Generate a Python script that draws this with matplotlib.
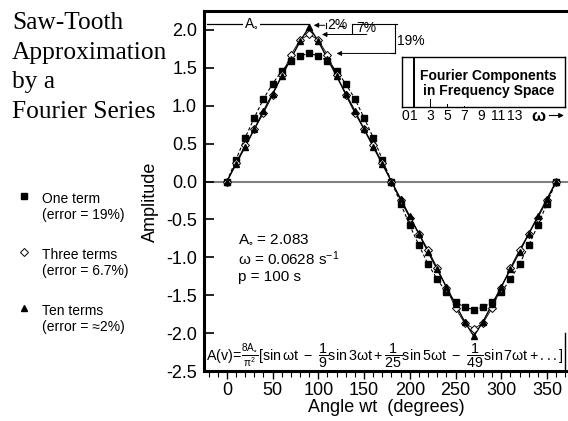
import matplotlib
matplotlib.use('Agg')
import matplotlib.pyplot as plt
from matplotlib.ticker import MultipleLocator
from matplotlib.legend_handler import HandlerLine2D
import numpy as np

plt.rcParams['font.family'] = ['Liberation Sans', 'DejaVu Sans']
plt.rcParams['axes.unicode_minus'] = False
plt.rcParams['mathtext.fontset'] = 'custom'
plt.rcParams['mathtext.rm'] = 'Liberation Sans'
plt.rcParams['mathtext.it'] = 'Liberation Sans'
plt.rcParams['mathtext.default'] = 'regular'

# ---------------- data ----------------
angle = [0, 10, 20, 30, 40, 50, 60, 70, 80, 90, 100, 110, 120, 130, 140, 150, 160, 170,
         180, 190, 200, 210, 220, 230, 240, 250, 260, 270, 280, 290, 300, 310, 320, 330,
         340, 350, 360]
one_term = [0, 0.29, 0.58, 0.84, 1.09, 1.29, 1.46, 1.59, 1.66, 1.69, 1.66, 1.59, 1.46,
            1.29, 1.09, 0.84, 0.58, 0.29, 0, -0.29, -0.58, -0.84, -1.09, -1.29, -1.46,
            -1.59, -1.66, -1.69, -1.66, -1.59, -1.46, -1.29, -1.09, -0.84, -0.58, -0.29, 0]
three_terms = [0, 0.25, 0.48, 0.69, 0.90, 1.14, 1.40, 1.67, 1.87, 1.94, 1.87, 1.67, 1.40,
               1.14, 0.90, 0.69, 0.48, 0.25, 0, -0.25, -0.48, -0.69, -0.90, -1.14, -1.40,
               -1.67, -1.87, -1.94, -1.87, -1.67, -1.40, -1.14, -0.90, -0.69, -0.48, -0.25, 0]
ten_terms = [0, 0.23, 0.46, 0.69, 0.93, 1.16, 1.39, 1.62, 1.85, 2.04, 1.85, 1.62, 1.39,
             1.16, 0.93, 0.69, 0.46, 0.23, 0, -0.23, -0.46, -0.69, -0.93, -1.16, -1.39,
             -1.62, -1.85, -2.04, -1.85, -1.62, -1.39, -1.16, -0.93, -0.69, -0.46, -0.23, 0]
series_labels = ['One term\n(error = 19%)', 'Three terms\n(error = 6.7%)',
                 'Ten terms\n(error = \u22482%)']
A0 = 2.083
x_ticks = [0, 50, 100, 150, 200, 250, 300, 350]
y_ticks = [-2.5, -2.0, -1.5, -1.0, -0.5, 0.0, 0.5, 1.0, 1.5, 2.0]

harmonics = [1, 3, 5, 7]
harmonic_heights = [1.0, 0.17, 0.06, 0.03]
inset_ticks = [0, 1, 3, 5, 7, 9, 11, 13]

# ---------------- figure ----------------
W, H = 568, 421
fig = plt.figure(figsize=(W / 100, H / 100), dpi=100)
ax = fig.add_axes([204 / W, 1 - 371 / H, 364 / W, 360 / H])
ax.set_xlim(-25, 373)
ax.set_ylim(-2.5, 2.25)

ax.axhline(0, color='#808080', lw=1.5, zorder=1)

ax.plot(angle, one_term, '--', color='k', lw=0.8, dashes=(3, 2), zorder=2)
ax.plot(angle, three_terms, '-', color='k', lw=0.6, zorder=2)
ax.plot(angle, ten_terms, '-', color='k', lw=1.0, zorder=2)
h1, = ax.plot(angle, one_term, 's', color='k', ms=5, ls='none', zorder=3)
h2, = ax.plot(angle, three_terms, 'D', mfc='white', mec='k', mew=0.7, ms=4, ls='none', zorder=4)
h3, = ax.plot(angle, ten_terms, '^', color='k', ms=5, ls='none', zorder=5)

# axes styling
for s in ['left', 'bottom', 'top']:
    ax.spines[s].set_linewidth(2.2)
ax.spines['right'].set_visible(False)
ax.set_xticks(x_ticks)
ax.xaxis.set_minor_locator(MultipleLocator(10))
ax.set_yticks(y_ticks)
ax.set_yticklabels(['%.1f' % v for v in y_ticks])
ax.tick_params(axis='x', which='major', direction='out', length=6, width=1, labelsize=13, pad=2)
ax.tick_params(axis='x', which='minor', direction='out', length=4, width=0.8)
ax.tick_params(axis='y', which='major', direction='in', length=7, width=1.2, labelsize=13, pad=5)
ax.set_xlabel('Angle wt  (degrees)', fontsize=13, labelpad=0)
ax.set_ylabel('Amplitude', fontsize=13)
ax.yaxis.set_label_coords(-0.125, 0.47)

# A0 level line and error annotations
one_max, three_max, ten_max = max(one_term), max(three_terms), max(ten_terms)
ax.plot([-22, 90], [A0, A0], color='k', lw=0.9, zorder=1)
ax.text(27, A0, r'A$_{\circ}$', ha='center', va='center', fontsize=10,
        bbox=dict(fc='white', ec='none', pad=1), zorder=2)
arrow = dict(arrowstyle='-|>', color='k', lw=0.7, mutation_scale=7, shrinkA=0, shrinkB=0)
# 2%
ax.annotate('', xy=(95, (A0 + ten_max) / 2), xytext=(107, (A0 + ten_max) / 2), arrowprops=arrow)
ax.plot([108, 108], [ten_max - 0.02, A0 + 0.01], color='k', lw=0.8)
ax.text(110, (A0 + ten_max) / 2, '2%', ha='left', va='center', fontsize=10)
ax.plot([124, 128], [A0 - 0.03, A0 - 0.03], color='k', lw=0.8)
# 7%
ax.plot([137, 137], [three_max, A0], color='k', lw=0.8)
ax.plot([137, 186], [A0, A0], color='k', lw=0.8)
ax.text(141, (A0 + three_max) / 2 + 0.01, '7%', ha='left', va='center', fontsize=10)
ax.annotate('', xy=(104, three_max), xytext=(153, three_max), arrowprops=arrow)
# 19%
ax.plot([184, 184], [one_max, A0], color='k', lw=0.8)
ax.plot([180, 184], [one_max, one_max], color='k', lw=0.8)
ax.annotate('', xy=(120, one_max), xytext=(184, one_max), arrowprops=arrow)
ax.text(186, 1.85, '19%', ha='left', va='center', fontsize=10)

# parameters
ax.text(12, -1.01, 'A$_{\\circ}$ = 2.083\n\u03c9 = 0.0628 s$^{-1}$\np = 100 s',
        ha='left', va='center', fontsize=11, linespacing=1.2)

# formula
ax.text(-23, -2.3,
        r'$A(v)\!=\!\frac{8A_{\circ}}{\pi^2}[\sin\omega t\ -\ \dfrac{1}{9}\sin3\omega t + '
        r'\dfrac{1}{25}\sin5\omega t\ -\ \dfrac{1}{49}\sin7\omega t + ...]$',
        ha='left', va='center', fontsize=10.3)
ax.plot([369.5, 369.5], [-2.0, -2.5], color='k', lw=1.0, clip_on=False)

# legend
class FirstLineHandler(HandlerLine2D):
    def __init__(self, dy=0, **kw):
        super().__init__(**kw)
        self.dy = dy

    def create_artists(self, legend, orig_handle, xdescent, ydescent, width, height,
                       fontsize, trans):
        arts = super().create_artists(legend, orig_handle, xdescent, ydescent, width,
                                      height, fontsize, trans)
        for a in arts:
            a.set_ydata(np.asarray(a.get_ydata(), float) + self.dy)
        return arts

leg = ax.legend(handles=[h1, h2, h3], labels=series_labels, loc='upper left',
                bbox_to_anchor=(18 / W, 1 - 192 / H), bbox_transform=fig.transFigure,
                frameon=False, fontsize=10, handlelength=0.8, handletextpad=0.9,
                labelspacing=1.85, borderpad=0, borderaxespad=0, numpoints=1,
                handler_map={h: FirstLineHandler(dy=8.5) for h in [h1, h2, h3]})

# title
fig.text(12 / W, 1 - 12 / H, 'Saw-Tooth\nApproximation\nby a\nFourier Series',
         ha='left', va='top', family='Liberation Serif', fontsize=18.3, linespacing=1.45)

# inset
ax_in = fig.add_axes([402 / W, 1 - 107 / H, 163 / W, 50 / H])
ax_in.set_xlim(-0.4, 19)
ax_in.set_ylim(0, 1.0)
ax_in.bar(harmonics, harmonic_heights, width=[0.22, 0.15, 0.15, 0.15], color='k')
for s in ax_in.spines.values():
    s.set_linewidth(1.0)
ax_in.set_yticks([])
ax_in.set_xticks(inset_ticks)
ax_in.tick_params(axis='x', length=0, pad=1.5, labelsize=10)
ax_in.text(0.53, 0.47, 'Fourier Components\nin Frequency Space', transform=ax_in.transAxes,
           ha='center', va='center', fontsize=10, fontweight='bold', linespacing=1.15)
ax_in.text(15.8, -0.19, '\u03c9', ha='center', va='center', fontsize=12, fontweight='bold',
           transform=ax_in.get_xaxis_transform())
ax_in.annotate('', xy=(19.2, -0.17), xytext=(16.8, -0.17),
               xycoords=ax_in.get_xaxis_transform(), textcoords=ax_in.get_xaxis_transform(),
               arrowprops=dict(arrowstyle='-|>', color='k', lw=0.8, mutation_scale=7))

fig.savefig('out.png', dpi=100)
